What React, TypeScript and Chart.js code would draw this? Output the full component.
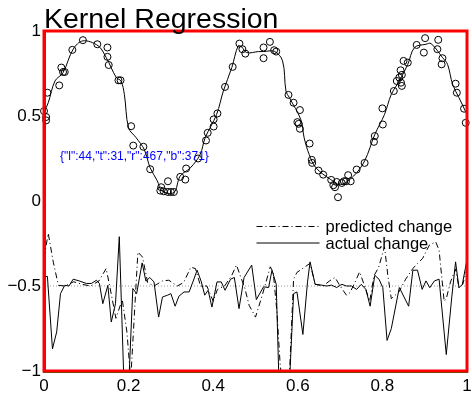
import React, { useEffect, useRef } from 'react';
import { Chart, registerables } from 'chart.js';

Chart.register(...registerables);

const titleText = 'Kernel Regression';
const legendLabels = ['predicted change', 'actual change'];

const xTicks = [0, 0.2, 0.4, 0.6, 0.8, 1];
const xTickLabels = ['0', '0.2', '0.4', '0.6', '0.8', '1'];
const yTicks = [-1, -0.5, 0, 0.5, 1];
const yTickLabels = ['\u22121', '\u22120.5', '0', '0.5', '1'];

const baselineY = -0.5;

const sampleX = [0, 0.005, 0.005, 0.008, 0.036, 0.041, 0.045, 0.049, 0.067, 0.092, 0.126, 0.15, 0.15, 0.153, 0.176, 0.181,
  0.206, 0.211, 0.235, 0.251, 0.275, 0.277, 0.283, 0.293, 0.293, 0.3, 0.307, 0.322, 0.334, 0.336, 0.364, 0.383, 0.387,
  0.401, 0.401, 0.41, 0.428, 0.446, 0.462, 0.469, 0.476, 0.519, 0.519, 0.534, 0.544, 0.549, 0.578, 0.59, 0.605, 0.599,
  0.602, 0.605, 0.628, 0.633, 0.634, 0.649, 0.66, 0.679, 0.684, 0.688, 0.692, 0.695, 0.704, 0.709, 0.714, 0.719, 0.725,
  0.739, 0.758, 0.782, 0.78, 0.801, 0.8, 0.827, 0.834, 0.84, 0.843, 0.846, 0.844, 0.846, 0.85, 0.86, 0.881, 0.898, 0.901,
  0.932, 0.93, 0.942, 0.94, 0.973, 0.976, 0.993, 0.997];
const sampleY = [0.529, 0.494, 0.474, 0.637, 0.68, 0.785, 0.759, 0.759, 0.889, 0.946, 0.922, 0.903, 0.848, 0.8, 0.71, 0.71,
  0.44, 0.326, 0.319, 0.187, 0.061, 0.081, 0.057, 0.116, 0.053, 0.053, 0.053, 0.142, 0.126, 0.191, 0.25, 0.356, 0.401,
  0.438, 0.48, 0.515, 0.671, 0.789, 0.926, 0.893, 0.867, 0.903, 0.84, 0.936, 0.887, 0.879, 0.624, 0.578, 0.535, 0.464,
  0.454, 0.425, 0.338, 0.242, 0.224, 0.179, 0.155, 0.124, 0.093, 0.081, 0.112, 0.022, 0.106, 0.116, 0.116, 0.152, 0.116,
  0.185, 0.224, 0.382, 0.348, 0.45, 0.545, 0.647, 0.706, 0.726, 0.769, 0.742, 0.696, 0.677, 0.824, 0.814, 0.918, 0.873, 0.958,
  0.948, 0.893, 0.84, 0.804, 0.69, 0.637, 0.543, 0.46];

const fitX = [0, 0.01, 0.026, 0.045, 0.069, 0.092, 0.128, 0.147, 0.171, 0.182, 0.19, 0.2, 0.218, 0.237, 0.251, 0.268,
  0.279, 0.307, 0.322, 0.346, 0.369, 0.381, 0.408, 0.424, 0.444, 0.459, 0.467, 0.479, 0.507, 0.519, 0.545, 0.564, 0.572,
  0.58, 0.607, 0.615, 0.627, 0.643, 0.678, 0.701, 0.732, 0.758, 0.782, 0.805, 0.821, 0.84, 0.86, 0.876, 0.903, 0.915,
  0.942, 0.954, 0.966, 0.981, 1];
const fitY = [0.52, 0.578, 0.706, 0.755, 0.893, 0.942, 0.913, 0.844, 0.726, 0.706, 0.627, 0.43, 0.372, 0.303, 0.195, 0.118,
  0.059, 0.05, 0.147, 0.195, 0.273, 0.372, 0.509, 0.647, 0.785, 0.913, 0.907, 0.873, 0.879, 0.879, 0.88, 0.824, 0.647,
  0.608, 0.48, 0.372, 0.273, 0.195, 0.126, 0.096, 0.147, 0.236, 0.391, 0.509, 0.627, 0.706, 0.804, 0.903, 0.922, 0.926,
  0.844, 0.804, 0.686, 0.608, 0.509];

const actualX = [0, 0.008, 0.02, 0.03, 0.039, 0.049, 0.059, 0.069, 0.083, 0.1, 0.112, 0.124, 0.131, 0.139, 0.151, 0.159,
  0.169, 0.178, 0.19, 0.2, 0.21, 0.219, 0.232, 0.241, 0.25, 0.26, 0.271, 0.28, 0.292, 0.3, 0.31, 0.319, 0.331, 0.343,
  0.352, 0.362, 0.372, 0.38, 0.388, 0.397, 0.409, 0.419, 0.428, 0.441, 0.45, 0.461, 0.473, 0.491, 0.502, 0.519, 0.531,
  0.539, 0.549, 0.557, 0.567, 0.578, 0.59, 0.598, 0.612, 0.623, 0.629, 0.641, 0.657, 0.668, 0.68, 0.692, 0.704, 0.715,
  0.727, 0.739, 0.75, 0.761, 0.771, 0.782, 0.792, 0.801, 0.811, 0.821, 0.84, 0.862, 0.872, 0.883, 0.894, 0.903, 0.912,
  0.923, 0.934, 0.951, 0.964, 0.973, 0.981, 0.989, 0.999];
const actualY = [-0.447, -0.443, -0.87, -0.77, -0.545, -0.496, -0.5, -0.46, -0.47, -0.485, -0.485, -0.466, -0.485, -0.604,
  -0.496, -0.712, -0.604, -0.21, -1.15, -1.1, -0.515, -0.545, -0.364, -0.472, -0.45, -0.476, -0.683, -0.565, -0.554, -0.545,
  -0.619, -0.56, -0.535, -0.535, -0.476, -0.407, -0.476, -0.554, -0.525, -0.624, -0.476, -0.476, -0.525, -0.46, -0.45,
  -0.633, -0.45, -0.377, -0.58, -0.505, -0.509, -0.407, -0.49, -1.2, -1.3, -1.2, -0.545, -0.535, -0.785, -0.476, -0.358,
  -0.49, -0.495, -0.5, -0.495, -0.509, -0.49, -0.5, -0.5, -0.52, -0.49, -0.52, -0.619, -0.437, -0.46, -0.51, -0.82, -0.751,
  -0.509, -0.619, -0.407, -0.407, -0.52, -0.47, -0.51, -0.47, -0.46, -0.903, -0.565, -0.358, -0.51, -0.49, -0.358];

const predX = [0, 0.01, 0.022, 0.034, 0.05, 0.07, 0.09, 0.11, 0.13, 0.147, 0.16, 0.17, 0.185, 0.196, 0.205, 0.222, 0.233,
  0.245, 0.26, 0.28, 0.295, 0.315, 0.33, 0.347, 0.358, 0.37, 0.385, 0.4, 0.41, 0.427, 0.444, 0.455, 0.475, 0.485, 0.5,
  0.516, 0.535, 0.542, 0.551, 0.558, 0.568, 0.581, 0.59, 0.598, 0.617, 0.629, 0.641, 0.66, 0.675, 0.688, 0.7, 0.715,
  0.723, 0.735, 0.746, 0.758, 0.77, 0.78, 0.791, 0.805, 0.813, 0.821, 0.839, 0.855, 0.872, 0.883, 0.895, 0.911, 0.926,
  0.934, 0.946, 0.951, 0.961, 0.973, 0.981, 0.99, 1];
const predY = [-0.336, -0.19, -0.36, -0.496, -0.5, -0.475, -0.49, -0.5, -0.47, -0.397, -0.56, -0.69, -0.58, -0.77, -1.05,
  -0.3, -0.33, -0.48, -0.5, -0.47, -0.466, -0.5, -0.48, -0.39, -0.397, -0.5, -0.5, -0.59, -0.52, -0.5, -0.437, -0.377,
  -0.515, -0.614, -0.683, -0.554, -0.387, -0.42, -0.663, -0.95, -1.2, -0.98, -0.46, -0.42, -0.387, -0.367, -0.49, -0.5,
  -0.47, -0.45, -0.5, -0.554, -0.54, -0.48, -0.417, -0.5, -0.59, -0.44, -0.391, -0.27, -0.44, -0.574, -0.535, -0.46,
  -0.397, -0.367, -0.338, -0.26, -0.24, -0.289, -0.59, -0.574, -0.476, -0.4, -0.51, -0.49, -0.4];

const FONT = '"Liberation Sans", Arial, Helvetica, sans-serif';
const DASH_DOT = [6, 3, 1, 3];
const FRAME_COLOR = 'red';

const toPts = (xs: number[], ys: number[]) => xs.map((x, i) => ({ x, y: ys[i] }));

const framePlugin = {
  id: 'matlabFrame',
  afterDraw(chart: any) {
    const ctx = chart.ctx;
    const a = chart.chartArea;
    const xs = chart.scales.x;
    const ys = chart.scales.y;
    ctx.save();
    ctx.setLineDash([]);
    ctx.strokeStyle = FRAME_COLOR;
    ctx.lineWidth = 3;
    ctx.strokeRect(a.left, a.top, a.right - a.left, a.bottom - a.top);
    ctx.fillStyle = 'blue';
    ctx.font = '12px sans-serif';
    ctx.fillText(JSON.stringify({ l: a.left, t: a.top, r: a.right, b: a.bottom }), 60, 160);
    ctx.fillStyle = '#000';
    ctx.font = `28.5px ${FONT}`;
    ctx.textAlign = 'left';
    ctx.textBaseline = 'alphabetic';
    ctx.fillText(titleText, a.left, a.top - 3);
    ctx.strokeStyle = '#000';
    const lx0 = xs.getPixelForValue(0.5) + 1;
    const lx1 = lx0 + 63;
    const tx = lx1 + 6;
    const ly1 = ys.getPixelForValue(-0.15);
    const ly2 = ly1 + 16.5;
    ctx.lineWidth = 1;
    ctx.setLineDash(DASH_DOT);
    ctx.beginPath();
    ctx.moveTo(lx0, ly1);
    ctx.lineTo(lx1, ly1);
    ctx.stroke();
    ctx.setLineDash([]);
    ctx.beginPath();
    ctx.moveTo(lx0, ly2);
    ctx.lineTo(lx1, ly2);
    ctx.stroke();
    ctx.font = `16.5px ${FONT}`;
    ctx.textBaseline = 'middle';
    ctx.fillText(legendLabels[0], tx, ly1 + 1);
    ctx.fillText(legendLabels[1], tx, ly2 + 1);
    ctx.restore();
  },
};

export default function App() {
  const ref = useRef<HTMLCanvasElement | null>(null);

  useEffect(() => {
    if (!ref.current) return;
    const chart = new Chart(ref.current, {
      type: 'scatter',
      data: {
        datasets: [
          { type: 'line', label: 'zero', data: [{ x: 0, y: baselineY }, { x: 1, y: baselineY }], borderColor: '#9a9a9a', borderWidth: 1, borderDash: [1, 2], pointRadius: 0, order: 5 },
          { type: 'line', label: legendLabels[0], data: toPts(predX, predY), borderColor: '#000', borderWidth: 1, borderDash: DASH_DOT, pointRadius: 0, tension: 0, order: 3 },
          { type: 'line', label: legendLabels[1], data: toPts(actualX, actualY), borderColor: '#000', borderWidth: 1, pointRadius: 0, tension: 0, order: 2 },
          { type: 'line', label: 'fit', data: toPts(fitX, fitY), borderColor: '#000', borderWidth: 1, pointRadius: 0, tension: 0.35, order: 1 },
          { type: 'scatter', label: 'samples', data: toPts(sampleX, sampleY), borderColor: '#000', backgroundColor: 'rgba(0,0,0,0)', borderWidth: 1, pointRadius: 3.5, clip: false, order: 0 },
        ],
      },
      options: {
        responsive: false,
        animation: false,
        events: [],
        layout: { padding: { top: 31, right: -1, left: 0, bottom: 0 } },
        plugins: { legend: { display: false }, title: { display: false }, tooltip: { enabled: false } },
        scales: {
          x: {
            type: 'linear', position: 'bottom', min: 0, max: 1,
            border: { display: true, color: 'green', width: 3 },
            grid: { display: false, drawTicks: false },
            afterBuildTicks: (s: any) => { s.ticks = xTicks.map((v) => ({ value: v })); },
            afterFit: (s: any) => { s.height = 22; s.paddingLeft = 0; s.paddingRight = 0; },
            ticks: { color: '#000', font: { family: FONT, size: 17 }, padding: 5, maxRotation: 0, autoSkip: false, callback: (_v: any, i: number) => xTickLabels[i] },
          },
          y: {
            type: 'linear', position: 'left', min: -1, max: 1,
            border: { display: true, color: 'green', width: 3 },
            grid: { display: false, drawTicks: false },
            afterBuildTicks: (s: any) => { s.ticks = yTicks.map((v) => ({ value: v })); },
            afterFit: (s: any) => { s.width = 44; s.paddingTop = 0; s.paddingBottom = 0; },
            ticks: { color: '#000', font: { family: FONT, size: 17 }, padding: 3, autoSkip: false, callback: (_v: any, i: number) => yTickLabels[i] },
          },
        },
      },
      plugins: [framePlugin],
    } as any);
    return () => chart.destroy();
  }, []);

  return (
    <div style={{ position: 'fixed', left: 0, top: 0, width: 472, height: 393, background: '#fff' }}>
      <canvas ref={ref} width={472} height={393} style={{ display: 'block' }} />
    </div>
  );
}
